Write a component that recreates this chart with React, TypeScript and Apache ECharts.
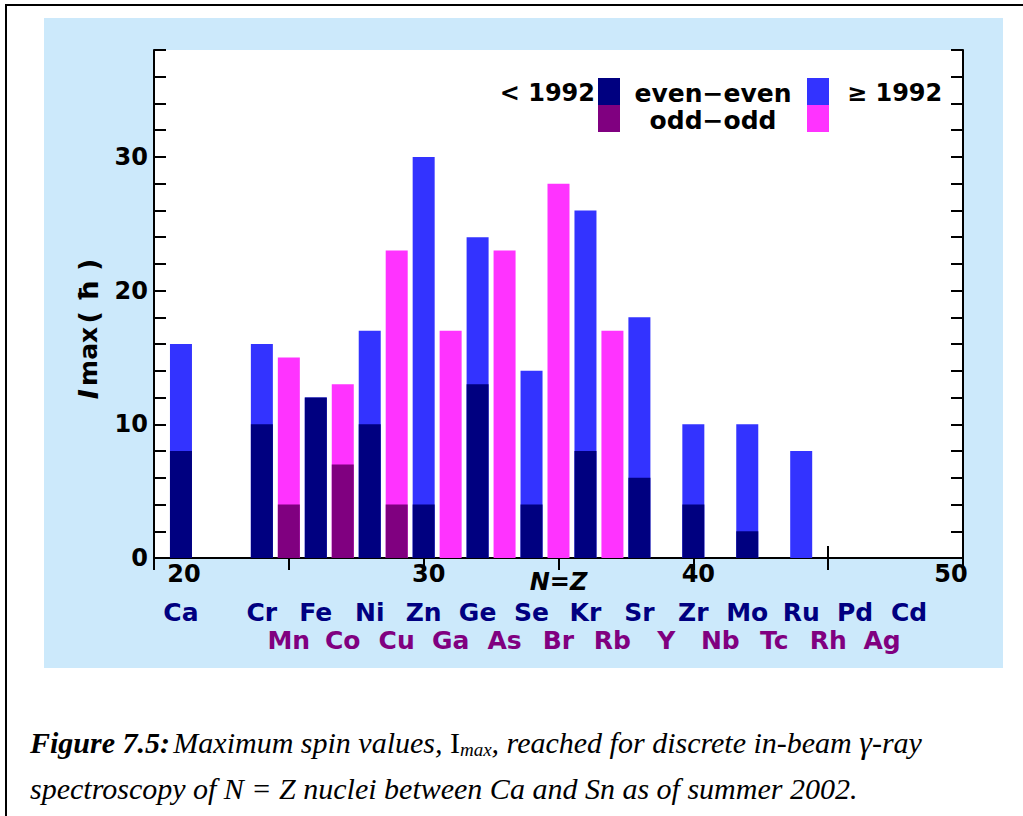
import React, { useEffect, useRef } from 'react';
import * as echarts from 'echarts';

// N=Z position at which each bar is drawn, and the nucleus it represents
const evenPos = [21, 24, 26, 28, 30, 32, 34, 36, 38, 40, 42, 44];
const evenNames = ['Ca', 'Cr', 'Fe', 'Ni', 'Zn', 'Ge', 'Se', 'Kr', 'Sr', 'Zr', 'Mo', 'Ru'];
const evenBefore1992 = [8, 10, 12, 10, 4, 13, 4, 8, 6, 4, 2, 0];
const evenUpTo2002 = [16, 16, 12, 17, 30, 24, 14, 26, 18, 10, 10, 8];

const oddPos = [25, 27, 29, 31, 33, 35, 37];
const oddNames = ['Mn', 'Co', 'Cu', 'Ga', 'As', 'Br', 'Rb'];
const oddBefore1992 = [4, 7, 4, 0, 0, 0, 0];
const oddUpTo2002 = [15, 13, 23, 17, 23, 28, 17];

// element labels under the axis
const evenLabelPos = [21, 24, 26, 28, 30, 32, 34, 36, 38, 40, 42, 44, 46, 48];
const evenLabels = ['Ca', 'Cr', 'Fe', 'Ni', 'Zn', 'Ge', 'Se', 'Kr', 'Sr', 'Zr', 'Mo', 'Ru', 'Pd', 'Cd'];
const oddLabelPos = [25, 27, 29, 31, 33, 35, 37, 39, 41, 43, 45, 47];
const oddLabels = ['Mn', 'Co', 'Cu', 'Ga', 'As', 'Br', 'Rb', 'Y', 'Nb', 'Tc', 'Rh', 'Ag'];

const xTickLabels = [20, 30, 40, 50];
const yTickLabels = [0, 10, 20, 30];

const NAVY = '#000080';
const BLUE = '#3333ff';
const PURPLE = '#800080';
const MAGENTA = '#ff33ff';
const PANEL = '#cce9fb';
const SANS = '"DejaVu Sans", sans-serif';
const SERIF = '"Liberation Serif", "Times New Roman", serif';

export default function App() {
  const ref = useRef<HTMLDivElement>(null);

  useEffect(() => {
    document.body.style.margin = '0';
    if (!ref.current) return;
    const chart = echarts.init(ref.current, undefined, { renderer: 'svg' });

    const evenLabelMap: Record<number, string> = {};
    evenLabelPos.forEach((p, i) => (evenLabelMap[p] = evenLabels[i]));
    const oddLabelMap: Record<number, string> = {};
    oddLabelPos.forEach((p, i) => (oddLabelMap[p] = oddLabels[i]));

    const axisBase = {
      type: 'value' as const,
      min: 20,
      max: 50,
      interval: 5,
      splitLine: { show: false },
      axisLine: { show: true, lineStyle: { color: '#000', width: 2 } },
      axisTick: { show: true, inside: true, length: 12, lineStyle: { color: '#000', width: 2 } },
    };
    const yBase = {
      type: 'value' as const,
      min: 0,
      max: 38,
      interval: 2,
      splitLine: { show: false },
      axisLine: { show: true, lineStyle: { color: '#000', width: 2 } },
      axisTick: { show: true, inside: true, length: 12, lineStyle: { color: '#000', width: 2 } },
    };

    const barCommon = {
      type: 'bar' as const,
      barWidth: 22,
      barGap: '-100%',
      xAxisIndex: 0,
      yAxisIndex: 0,
    };

    chart.setOption({
      animation: false,
      backgroundColor: '#fff',
      grid: {
        left: 154,
        top: 50,
        right: 60,
        bottom: 258,
        show: true,
        backgroundColor: '#fff',
        borderWidth: 0,
      },
      xAxis: [
        {
          ...axisBase,
          position: 'bottom',
          name: 'N=Z',
          nameLocation: 'middle',
          nameGap: 12,
          nameMoveOverlap: false,
          nameTextStyle: {
            fontFamily: SANS,
            fontWeight: 'bold',
            fontStyle: 'italic',
            fontSize: 24,
            color: '#000',
            verticalAlign: 'top',
          },
          axisLabel: {
            margin: 4,
            fontFamily: SANS,
            fontWeight: 'bold',
            fontSize: 24,
            color: '#000',
            formatter: (v: number) => {
              if (!xTickLabels.includes(v)) return '';
              if (v === 20) return '{a|' + v + '}';
              if (v === 50) return '{z|' + v + '}';
              return '{m|' + v + '}';
            },
            rich: {
              a: { padding: [0, 0, 0, 60], fontFamily: SANS, fontWeight: 'bold', fontSize: 24, color: '#000' },
              m: { padding: [0, 0, 0, 10], fontFamily: SANS, fontWeight: 'bold', fontSize: 24, color: '#000' },
              z: { padding: [0, 24, 0, 0], fontFamily: SANS, fontWeight: 'bold', fontSize: 24, color: '#000' },
            },
          },
        },
        {
          ...axisBase,
          position: 'top',
          axisLabel: { show: false },
        },
        {
          type: 'value',
          min: 20,
          max: 50,
          interval: 1,
          position: 'bottom',
          offset: 38,
          splitLine: { show: false },
          axisLine: { show: false },
          axisTick: { show: false },
          axisLabel: {
            margin: 4,
            fontFamily: SANS,
            fontWeight: 'bold',
            fontSize: 25,
            color: NAVY,
            formatter: (v: number) => evenLabelMap[Math.round(v)] || '',
          },
        },
        {
          type: 'value',
          min: 20,
          max: 50,
          interval: 1,
          position: 'bottom',
          offset: 66,
          splitLine: { show: false },
          axisLine: { show: false },
          axisTick: { show: false },
          axisLabel: {
            margin: 4,
            fontFamily: SANS,
            fontWeight: 'bold',
            fontSize: 25,
            color: PURPLE,
            formatter: (v: number) => oddLabelMap[Math.round(v)] || '',
          },
        },
      ],
      yAxis: [
        {
          ...yBase,
          position: 'left',
          name: '{i|I} {m|max} {n|( ħ )}',
          nameLocation: 'middle',
          nameRotate: 90,
          nameGap: 52,
          nameMoveOverlap: false,
          nameTextStyle: {
            padding: [0, 50, 0, 0],
            rich: {
              i: { fontFamily: SANS, fontWeight: 'bold', fontStyle: 'italic', fontSize: 27, color: '#000' },
              m: { fontFamily: SANS, fontWeight: 'bold', fontSize: 25, color: '#000' },
              n: { fontFamily: SANS, fontWeight: 'bold', fontSize: 27, color: '#000' },
            },
          },
          axisLabel: {
            margin: 6,
            fontFamily: SANS,
            fontWeight: 'bold',
            fontSize: 24,
            color: '#000',
            formatter: (v: number) => (yTickLabels.includes(v) ? String(v) : ''),
          },
        },
        {
          ...yBase,
          position: 'right',
          axisLabel: { show: false },
        },
      ],
      series: [
        {
          ...barCommon,
          name: 'even-even ≥ 1992',
          itemStyle: { color: BLUE },
          data: evenPos.map((p, i) => [p, evenUpTo2002[i]]),
        },
        {
          ...barCommon,
          name: 'even-even < 1992',
          itemStyle: { color: NAVY },
          data: evenPos.map((p, i) => [p, evenBefore1992[i]]),
        },
        {
          ...barCommon,
          name: 'odd-odd ≥ 1992',
          itemStyle: { color: MAGENTA },
          data: oddPos.map((p, i) => [p, oddUpTo2002[i]]),
        },
        {
          ...barCommon,
          name: 'odd-odd < 1992',
          itemStyle: { color: PURPLE },
          data: oddPos.map((p, i) => [p, oddBefore1992[i]]),
        },
      ],
      graphic: [
        {
          type: 'rect',
          z: -20,
          shape: { x: 44, y: 18, width: 959, height: 650 },
          style: { fill: PANEL },
        },
        {
          type: 'rect',
          z: -20,
          shape: { x: 6, y: 5, width: 1040, height: 840 },
          style: { fill: 'none', stroke: '#000', lineWidth: 2 },
        },
        // legend
        {
          type: 'text',
          x: 595,
          y: 93,
          style: {
            text: '< 1992',
            fontFamily: SANS,
            fontWeight: 'bold',
            fontSize: 24,
            fill: '#000',
            align: 'right',
            verticalAlign: 'middle',
          },
        },
        { type: 'rect', shape: { x: 598, y: 78, width: 22, height: 27 }, style: { fill: NAVY } },
        { type: 'rect', shape: { x: 598, y: 105, width: 22, height: 27 }, style: { fill: PURPLE } },
        {
          type: 'text',
          x: 713,
          y: 93,
          style: {
            text: 'even−even',
            fontFamily: SANS,
            fontWeight: 'bold',
            fontSize: 25,
            fill: '#000',
            align: 'center',
            verticalAlign: 'middle',
          },
        },
        {
          type: 'text',
          x: 713,
          y: 120,
          style: {
            text: 'odd−odd',
            fontFamily: SANS,
            fontWeight: 'bold',
            fontSize: 25,
            fill: '#000',
            align: 'center',
            verticalAlign: 'middle',
          },
        },
        { type: 'rect', shape: { x: 807, y: 78, width: 22, height: 27 }, style: { fill: BLUE } },
        { type: 'rect', shape: { x: 807, y: 105, width: 22, height: 27 }, style: { fill: MAGENTA } },
        {
          type: 'text',
          x: 847,
          y: 93,
          style: {
            text: '≥ 1992',
            fontFamily: SANS,
            fontWeight: 'bold',
            fontSize: 24,
            fill: '#000',
            align: 'left',
            verticalAlign: 'middle',
          },
        },
        // caption
        {
          type: 'text',
          x: 30,
          y: 742,
          style: {
            text:
              '{b|Figure 7.5:} {i|Maximum spin values, }{r|I}{s|max}{i|, reached for discrete in-beam }{g|γ}{i|-ray}',
            verticalAlign: 'middle',
            rich: {
              b: { fontFamily: SERIF, fontWeight: 'bold', fontStyle: 'italic', fontSize: 30, fill: '#000' },
              i: { fontFamily: SERIF, fontStyle: 'italic', fontSize: 30, fill: '#000' },
              r: { fontFamily: SERIF, fontSize: 30, fill: '#000' },
              s: { fontFamily: SERIF, fontStyle: 'italic', fontSize: 19, fill: '#000', padding: [14, 0, 0, 0] },
              g: { fontFamily: SERIF, fontStyle: 'italic', fontSize: 32, fill: '#000' },
            },
          },
        },
        {
          type: 'text',
          x: 30,
          y: 788,
          style: {
            text: 'spectroscopy of N = Z nuclei between Ca and Sn as of summer 2002.',
            fontFamily: SERIF,
            fontStyle: 'italic',
            fontSize: 30,
            fill: '#000',
            verticalAlign: 'middle',
          },
        },
      ],
    });

    return () => chart.dispose();
  }, []);

  return <div ref={ref} style={{ width: 1023, height: 816 }} />;
}
